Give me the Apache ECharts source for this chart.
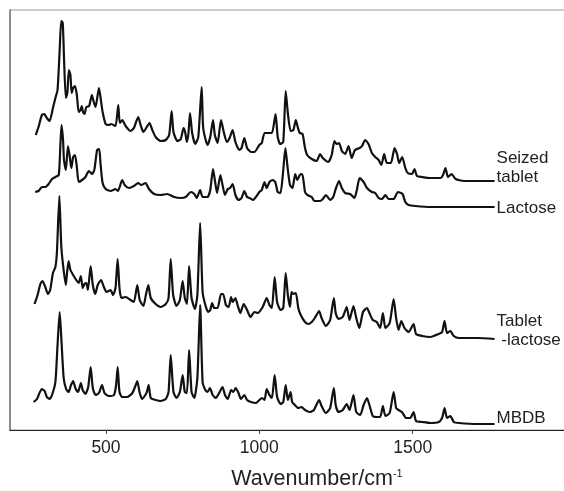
<!DOCTYPE html>
<html>
<head>
    <meta charset="utf-8">
    <title>index</title>
    <style>
        html, body { margin: 0; padding: 0; background: #fff; }
        #container { width: 564px; height: 491px; }
    </style>
</head>
<body>
    <div id="container"></div>
    <script src="https://cdn.jsdelivr.net/npm/echarts@6/dist/echarts.min.js"></script>
    <script>
        var tickValues = [500, 1000, 1500];

        // [wavenumber, offset intensity]
        var seized = [[271,295],[280,303],[291,315],[299,316],[307,312],[316,309],[327,322],[335,332],[342,340],[349,380],[354,409],[359,407],[363,373],[369,332],[374,337],[379,360],[384,355],[388,337],[393,342],[399,344],[405,335],[411,318],[417,320],[421,324],[425,318],[430,316],[436,323],[445,324],[454,335],[460,328],[466,323],[477,342],[482,333],[489,318],[499,306],[509,305],[517,306],[531,304],[540,325],[545,307],[553,310],[564,304],[580,299],[591,302],[605,313],[613,305],[622,298],[633,303],[642,307],[651,300],[662,293],[678,289],[695,290],[706,295],[714,319],[720,298],[733,289],[744,291],[753,302],[758,298],[764,288],[769,297],[774,317],[781,297],[791,286],[801,293],[812,343],[817,302],[831,285],[840,293],[849,310],[855,295],[864,287],[875,310],[884,298],[894,288],[903,292],[913,300],[922,288],[935,280],[942,282],[951,292],[960,282],[973,278],[984,278],[1000,285],[1008,287],[1017,297],[1028,297],[1041,297],[1053,316],[1060,293],[1068,286],[1078,288],[1086,339],[1093,317],[1102,299],[1111,300],[1119,310],[1126,302],[1132,297],[1141,296],[1149,282],[1156,275],[1171,271],[1187,269],[1198,276],[1207,272],[1225,268],[1236,275],[1245,289],[1252,286],[1260,287],[1269,279],[1280,276],[1291,284],[1301,272],[1312,280],[1327,282],[1335,284],[1345,290],[1356,286],[1367,277],[1378,273],[1389,270],[1398,265],[1407,276],[1416,267],[1429,267],[1441,282],[1449,276],[1456,267],[1466,273],[1476,262],[1484,257],[1498,256],[1506,261],[1514,254],[1531,253],[1558,252],[1591,252],[1599,255],[1607,262],[1615,253],[1627,256],[1640,251],[1667,249],[1711,249],[1767,249]];

        var lactose = [[269,238],[280,239],[291,243],[302,243],[313,246],[324,251],[335,253],[346,255],[351,283],[355,305],[360,290],[363,270],[369,260],[376,284],[382,273],[387,262],[393,273],[399,275],[405,263],[411,248],[422,250],[433,253],[444,259],[455,256],[462,260],[471,280],[478,281],[482,267],[489,247],[499,241],[515,239],[531,241],[539,239],[553,250],[561,245],[575,242],[591,244],[605,247],[615,245],[629,247],[640,241],[657,236],[678,235],[700,236],[722,233],[744,232],[760,233],[777,238],[788,236],[796,232],[807,240],[815,233],[831,233],[840,240],[849,261],[855,250],[862,237],[873,255],[880,245],[888,235],[897,241],[905,242],[913,246],[922,235],[932,230],[942,232],[951,239],[960,233],[968,232],[979,230],[989,233],[1000,238],[1008,240],[1017,248],[1024,242],[1033,248],[1044,250],[1052,248],[1060,238],[1069,237],[1078,260],[1085,282],[1092,263],[1100,245],[1108,242],[1117,256],[1124,250],[1132,255],[1140,256],[1149,238],[1157,235],[1171,233],[1179,229],[1198,229],[1207,231],[1217,235],[1231,230],[1241,233],[1250,242],[1260,249],[1269,242],[1280,237],[1296,236],[1310,232],[1318,240],[1327,252],[1340,248],[1351,242],[1367,238],[1378,237],[1389,232],[1400,231],[1411,235],[1421,231],[1438,231],[1452,238],[1467,236],[1476,228],[1487,225],[1509,224],[1558,223],[1623,223],[1767,223]];

        var tabletMinusLactose = [[267,126],[277,135],[286,146],[293,149],[302,143],[311,136],[318,140],[327,157],[335,163],[340,178],[348,234],[354,185],[360,165],[369,145],[373,157],[378,169],[384,160],[393,155],[403,150],[411,147],[418,154],[424,142],[430,146],[436,147],[441,140],[450,164],[457,145],[465,136],[473,145],[484,150],[493,143],[502,138],[515,140],[523,135],[531,142],[538,171],[544,142],[550,132],[564,133],[580,130],[591,128],[602,145],[610,130],[622,124],[630,135],[638,145],[646,132],[662,126],[678,123],[695,126],[704,132],[711,171],[719,135],[730,124],[741,130],[750,149],[757,132],[764,126],[771,164],[779,132],[790,121],[798,135],[807,207],[815,138],[824,125],[833,118],[840,120],[846,127],[853,122],[864,122],[875,136],[882,136],[891,125],[900,123],[908,133],[913,128],[922,132],[929,125],[938,117],[949,126],[960,120],[971,113],[984,118],[995,117],[1011,123],[1024,132],[1033,125],[1041,122],[1050,153],[1058,128],[1069,120],[1078,122],[1086,157],[1093,135],[1100,123],[1105,138],[1111,136],[1119,137],[1127,122],[1135,115],[1149,108],[1160,106],[1171,108],[1181,112],[1195,119],[1203,112],[1217,104],[1231,110],[1243,132],[1249,117],[1258,111],[1272,113],[1285,123],[1294,110],[1307,124],[1316,112],[1326,102],[1338,118],[1351,122],[1359,117],[1370,110],[1383,108],[1394,102],[1403,117],[1411,102],[1425,107],[1438,131],[1446,112],[1454,100],[1463,109],[1473,102],[1487,98],[1503,106],[1511,96],[1531,94],[1558,93],[1585,96],[1596,98],[1604,109],[1612,97],[1623,99],[1634,94],[1651,92],[1711,92],[1767,91]];

        var mbdb = [[264,28],[275,31],[283,37],[291,41],[300,39],[307,33],[316,31],[324,35],[335,48],[342,85],[349,118],[355,88],[362,52],[370,41],[378,38],[386,45],[393,49],[400,42],[409,38],[418,47],[424,40],[433,36],[442,43],[450,63],[457,42],[466,35],[477,37],[487,45],[495,37],[509,34],[526,35],[533,45],[538,63],[544,38],[553,33],[569,33],[586,37],[597,45],[602,49],[610,37],[618,31],[632,37],[639,45],[646,32],[662,30],[678,29],[695,31],[704,38],[711,75],[720,38],[730,32],[741,38],[750,55],[757,38],[764,37],[771,80],[779,38],[788,32],[798,52],[807,125],[815,48],[824,40],[831,38],[839,42],[848,35],[858,32],[869,37],[880,43],[888,35],[897,31],[908,40],[915,38],[923,42],[932,37],[940,31],[951,35],[960,30],[973,28],[989,27],[1000,30],[1009,32],[1017,30],[1024,41],[1033,35],[1041,32],[1050,55],[1058,33],[1069,26],[1078,28],[1086,45],[1093,30],[1102,38],[1107,28],[1116,25],[1127,22],[1138,23],[1149,20],[1165,18],[1178,20],[1195,30],[1203,24],[1217,17],[1231,22],[1243,42],[1249,25],[1258,18],[1272,20],[1285,26],[1294,20],[1307,35],[1316,18],[1329,15],[1340,25],[1351,32],[1359,25],[1370,14],[1383,13],[1394,13],[1403,24],[1411,14],[1425,17],[1438,38],[1446,22],[1454,20],[1465,18],[1479,12],[1492,12],[1503,18],[1511,9],[1531,8],[1558,7],[1585,8],[1596,12],[1604,22],[1612,12],[1623,14],[1634,8],[1651,7],[1711,6],[1767,6]];

        function spectrum(name, data, labelText, labelOffset) {
            return {
                name: name,
                type: 'line',
                data: data,
                showSymbol: false,
                symbol: 'none',
                silent: true,
                clip: false,
                smooth: 0.2,
                lineStyle: { color: '#111', width: 2.2, join: 'round' },
                endLabel: {
                    show: true,
                    formatter: labelText,
                    offset: labelOffset,
                    distance: 0,
                    color: '#222',
                    fontFamily: 'Liberation Sans',
                    fontSize: 17,
                    lineHeight: 19,
                    align: 'left'
                }
            };
        }

        var myChart = echarts.init(document.getElementById('container'), null, { renderer: 'canvas' });
        myChart.setOption({
            animation: false,
            backgroundColor: '#fff',
            grid: { left: 10, right: -2, top: 10, bottom: 61, outerBoundsMode: 'none', show: true, borderColor: '#999', borderWidth: 1 },
            xAxis: {
                type: 'value',
                min: 187,
                max: 2000,
                position: 'bottom',
                splitLine: { show: false },
                axisLine: { onZero: false, lineStyle: { color: '#222', width: 1.2 } },
                axisTick: { customValues: tickValues, length: 4, lineStyle: { color: '#444' } },
                axisLabel: {
                    customValues: tickValues,
                    formatter: function (v) { return String(v); },
                    color: '#222',
                    margin: 9,
                    fontFamily: 'Liberation Sans',
                    fontSize: 17.5
                },
                name: 'Wavenumber/cm{sup|-1}',
                nameLocation: 'middle',
                nameGap: 38,
                nameTextStyle: {
                    color: '#222',
                    fontFamily: 'Liberation Sans',
                    fontSize: 21.5,
                    padding: [0, 0, 0, 58],
                    rich: { sup: { fontSize: 11, verticalAlign: 'top', fontFamily: 'Liberation Sans', color: '#222', padding: [0, 0, 8, 0] } }
                }
            },
            yAxis: {
                type: 'value',
                min: 0,
                max: 420,
                axisLine: { show: true, onZero: false, lineStyle: { color: '#777', width: 1.5 } },
                axisTick: { show: false },
                axisLabel: { show: false },
                splitLine: { show: false }
            },
            series: [
                spectrum('Seized tablet', seized, 'Seized\ntablet', [2, -13]),
                spectrum('Lactose', lactose, 'Lactose', [2, 1]),
                spectrum('Tablet -lactose', tabletMinusLactose, 'Tablet\n -lactose', [2, -8]),
                spectrum('MBDB', mbdb, 'MBDB', [2, -6])
            ]
        });
    </script>
</body>
</html>
